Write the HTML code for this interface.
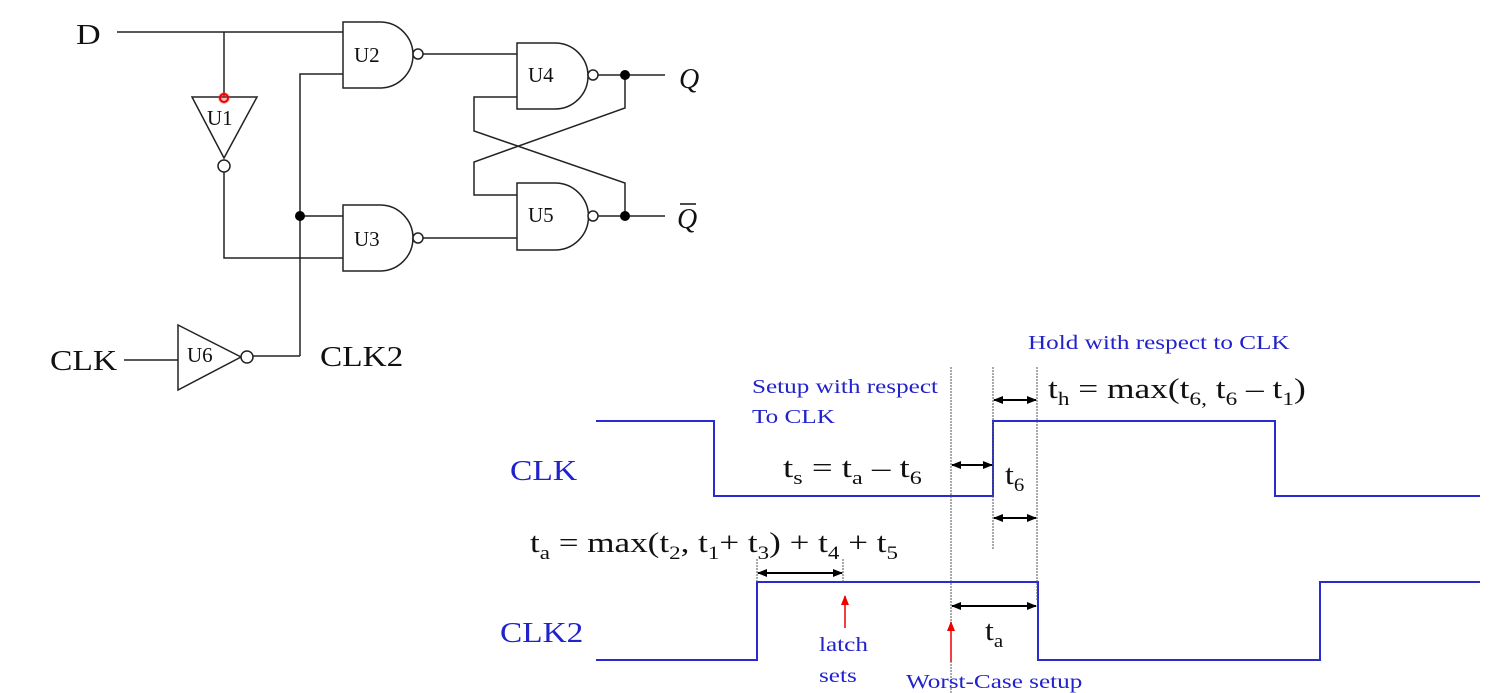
<!DOCTYPE html>
<html><head><meta charset="utf-8"><style>
html,body{margin:0;padding:0;background:#fff;width:1499px;height:693px;overflow:hidden}
svg{display:block}
text{font-family:"Liberation Serif",serif}
</style></head><body>
<svg width="1499" height="693" viewBox="0 0 1499 693" xmlns="http://www.w3.org/2000/svg">
<defs>
<marker id="ah" markerWidth="10" markerHeight="8" refX="9" refY="4" orient="auto-start-reverse" markerUnits="userSpaceOnUse"><path d="M0,0 L10,4 L0,8 z" fill="#000"/></marker>
<marker id="rh" markerWidth="8" markerHeight="10" refX="4" refY="1" orient="0" markerUnits="userSpaceOnUse"><path d="M0,10 L4,0 L8,10 z" fill="#e00"/></marker>
</defs>
<g stroke="#222" stroke-width="1.5" fill="none">
<path d="M117,32 H343"/>
<path d="M224,32 V97"/>
<path d="M192,97 H257 L224,158 Z"/>
<circle cx="224" cy="166" r="6" fill="#fff"/>
<path d="M224,172 V258 H343"/>
<path d="M300,356 V74 H343"/>
<path d="M300,216 H343"/>
<path d="M343,22 H380 A33,33 0 0 1 380,88 H343 Z"/>
<circle cx="418" cy="54" r="5" fill="#fff"/>
<path d="M423,54 H517"/>
<path d="M343,205 H380 A33,33 0 0 1 380,271 H343 Z"/>
<circle cx="418" cy="238" r="5" fill="#fff"/>
<path d="M423,238 H517"/>
<path d="M517,43 H555 A33,33 0 0 1 555,109 H517 Z"/>
<circle cx="593" cy="75" r="5" fill="#fff"/>
<path d="M598,75 H665"/>
<path d="M517,183 H555 A33,33 0 0 1 555,250 H517 Z"/>
<circle cx="593" cy="216" r="5" fill="#fff"/>
<path d="M598,216 H665"/>
<path d="M517,97 H474 V131 L625,183 V216"/>
<path d="M625,75 V108 L474,162 V195 H517"/>
<path d="M124,360 H178"/>
<path d="M178,325 L241,357 L178,390 Z"/>
<circle cx="247" cy="357" r="6" fill="#fff"/>
<path d="M253,356 H300"/>
</g>
<circle cx="300" cy="216" r="5" fill="#000"/>
<circle cx="625" cy="75" r="5" fill="#000"/>
<circle cx="625" cy="216" r="5" fill="#000"/>
<circle cx="224" cy="98" r="6" fill="#f33" opacity="0.35"/>
<circle cx="224" cy="98" r="4" fill="none" stroke="#e00" stroke-width="2"/>
<g font-size="21" fill="#111">
<text x="354" y="62">U2</text>
<text x="354" y="246">U3</text>
<text x="528" y="82">U4</text>
<text x="528" y="222">U5</text>
<text x="207" y="125">U1</text>
<text x="187" y="362">U6</text>
</g>
<g font-size="28" fill="#111">
<text transform="translate(76,44) scale(1.22,1)">D</text>
<text transform="translate(50,370) scale(1.2,1)">CLK</text>
<text transform="translate(320,366) scale(1.19,1)">CLK2</text>
<text x="679" y="88" font-style="italic">Q</text>
<text x="677" y="228" font-style="italic">Q</text>
</g>
<path d="M680,204 H696" stroke="#111" stroke-width="1.5"/>

<g stroke="#2a2ad0" stroke-width="2" fill="none">
<path d="M596,421 H714 V496 H993 V421 H1275 V496 H1480"/>
<path d="M596,660 H757 V582 H1038 V660 H1320 V582 H1480"/>
</g>
<g stroke="#555" stroke-width="1" fill="none" stroke-dasharray="2,1">
<path d="M951,367 V693"/>
<path d="M993,367 V550"/>
<path d="M1037,367 V600"/>
<path d="M757,559 V582"/>
<path d="M843,559 V582"/>
</g>
<g stroke="#000" stroke-width="2" marker-start="url(#ah)" marker-end="url(#ah)">
<path d="M994,400 H1036"/>
<path d="M952,465 H992"/>
<path d="M994,518 H1036"/>
<path d="M758,573 H842"/>
<path d="M952,606 H1036"/>
</g>
<g stroke="#e00" stroke-width="1.5">
<path d="M845,628 V596" marker-end="url(#rh)"/>
<path d="M951,662 V622" marker-end="url(#rh)"/>
</g>
<g fill="#2222cc" font-size="20">
<text transform="translate(1028,349) scale(1.26,1)">Hold with respect to CLK</text>
<text transform="translate(752,393) scale(1.26,1)">Setup with respect</text>
<text transform="translate(752,423) scale(1.26,1)">To CLK</text>
<text transform="translate(819,651) scale(1.26,1)">latch</text>
<text transform="translate(819,682) scale(1.26,1)">sets</text>
<text transform="translate(906,688) scale(1.26,1)">Worst-Case setup</text>
</g>
<g fill="#2222cc" font-size="28">
<text transform="translate(510,480) scale(1.2,1)">CLK</text>
<text transform="translate(500,642) scale(1.19,1)">CLK2</text>
</g>
<g fill="#111" font-size="29">
<text transform="translate(1048,398) scale(1.22,1)">t<tspan font-size="19" dy="7">h</tspan><tspan dy="-7"> = max(t</tspan><tspan font-size="19" dy="7">6,</tspan><tspan dy="-7"> t</tspan><tspan font-size="19" dy="7">6</tspan><tspan dy="-7"> – t</tspan><tspan font-size="19" dy="7">1</tspan><tspan dy="-7">)</tspan></text>
<text transform="translate(783,477) scale(1.27,1)">t<tspan font-size="19" dy="7">s</tspan><tspan dy="-7"> = t</tspan><tspan font-size="19" dy="7">a</tspan><tspan dy="-7"> – t</tspan><tspan font-size="19" dy="7">6</tspan></text>
<text transform="translate(1005,484) scale(1.1,1)">t<tspan font-size="19" dy="7">6</tspan></text>
<text transform="translate(530,552) scale(1.21,1)">t<tspan font-size="19" dy="7">a</tspan><tspan dy="-7"> = max(t</tspan><tspan font-size="19" dy="7">2</tspan><tspan dy="-7">, t</tspan><tspan font-size="19" dy="7">1</tspan><tspan dy="-7">+ t</tspan><tspan font-size="19" dy="7">3</tspan><tspan dy="-7">)  + t</tspan><tspan font-size="19" dy="7">4</tspan><tspan dy="-7"> + t</tspan><tspan font-size="19" dy="7">5</tspan></text>
<text transform="translate(985,640) scale(1.1,1)">t<tspan font-size="19" dy="7">a</tspan></text>
</g>
</svg>
</body></html>
